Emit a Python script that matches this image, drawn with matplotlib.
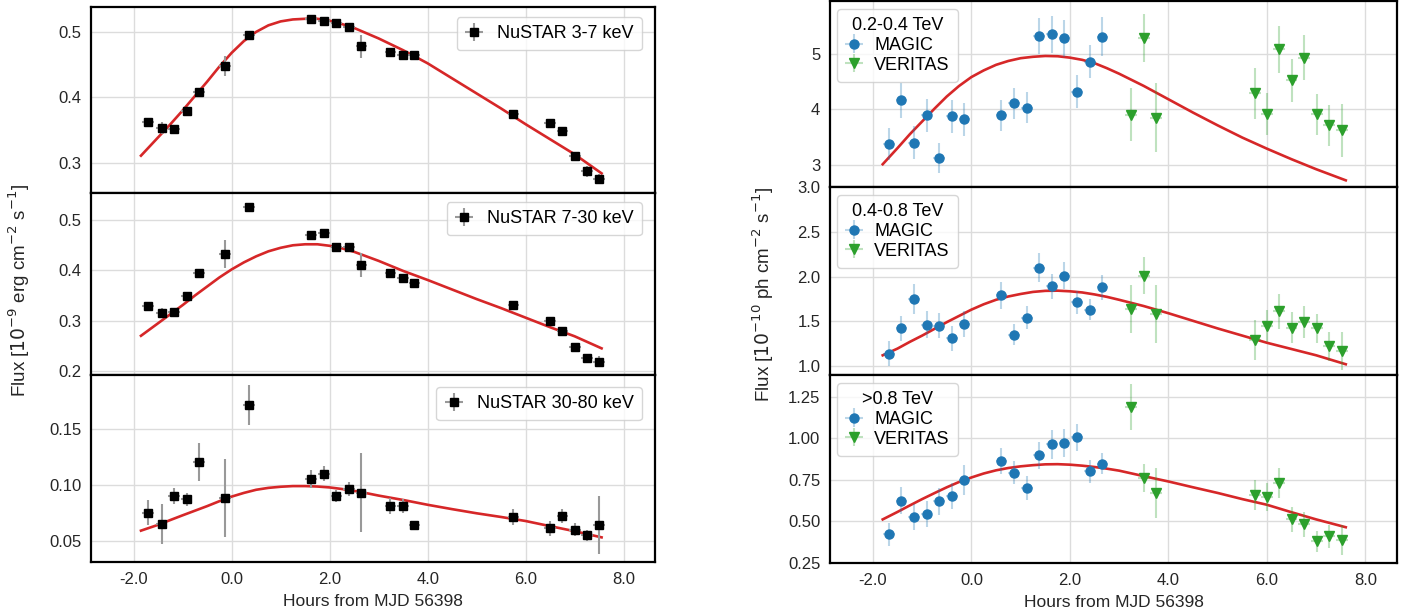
import numpy as np
import matplotlib.pyplot as plt

plt.rcParams['font.family'] = ['Liberation Sans', 'DejaVu Sans']
plt.rcParams['axes.unicode_minus'] = False
plt.rcParams['font.size'] = 12

#######################################################
# NuSTAR (left column)
nustar_t = [-1.70, -1.43, -1.18, -0.92, -0.66, -0.14, 0.35, 1.62, 1.88, 2.14, 2.40,
            2.65, 3.24, 3.49, 3.73, 5.75, 6.50, 6.75, 7.01, 7.26, 7.50]
nustar_lo   = [0.363, 0.353, 0.352, 0.379, 0.408, 0.448, 0.496, 0.519, 0.517, 0.514, 0.507,
               0.478, 0.470, 0.465, 0.465, 0.374, 0.361, 0.348, 0.311, 0.287, 0.275]
nustar_lo_e = [0.005, 0.009, 0.005, 0.005, 0.006, 0.015, 0.006, 0.005, 0.005, 0.005, 0.005,
               0.018, 0.005, 0.005, 0.005, 0.006, 0.006, 0.006, 0.006, 0.008, 0.008]
nustar_mid   = [0.329, 0.316, 0.317, 0.350, 0.394, 0.432, 0.526, 0.470, 0.474, 0.447, 0.446,
                0.410, 0.395, 0.385, 0.374, 0.331, 0.299, 0.280, 0.248, 0.225, 0.218]
nustar_mid_e = [0.007, 0.010, 0.007, 0.007, 0.008, 0.028, 0.009, 0.007, 0.007, 0.007, 0.007,
                0.024, 0.007, 0.007, 0.007, 0.008, 0.008, 0.008, 0.008, 0.009, 0.011]
nustar_hi   = [0.075, 0.065, 0.090, 0.087, 0.120, 0.088, 0.171, 0.105, 0.110, 0.090, 0.096,
               0.093, 0.081, 0.081, 0.064, 0.071, 0.061, 0.072, 0.060, 0.055, 0.064]
nustar_hi_e = [0.011, 0.018, 0.007, 0.006, 0.017, 0.035, 0.018, 0.008, 0.007, 0.005, 0.006,
               0.035, 0.007, 0.006, 0.004, 0.007, 0.007, 0.006, 0.006, 0.005, 0.026]

# model curves
curve_t_left = [-1.85, -1.5, -1.25, -1.0, -0.75, -0.5, -0.25, 0.0, 0.25, 0.5, 0.75, 1.0,
                1.25, 1.5, 1.75, 2.0, 2.25, 2.5, 2.75, 3.0, 3.5, 4.0, 4.5, 5.0, 5.5,
                6.0, 6.5, 7.0, 7.55]
curve_lo  = [0.311, 0.339, 0.359, 0.380, 0.402, 0.424, 0.447, 0.468, 0.486, 0.500, 0.510, 0.516,
             0.519, 0.520, 0.520, 0.517, 0.512, 0.506, 0.498, 0.490, 0.472, 0.452, 0.429,
             0.406, 0.383, 0.359, 0.336, 0.313, 0.284]
curve_mid = [0.270, 0.295, 0.313, 0.331, 0.350, 0.368, 0.386, 0.402, 0.416, 0.428, 0.438, 0.445,
             0.450, 0.452, 0.452, 0.449, 0.444, 0.437, 0.428, 0.419, 0.399, 0.381, 0.362,
             0.343, 0.325, 0.306, 0.287, 0.269, 0.245]
curve_hi  = [0.059, 0.0642, 0.0685, 0.0727, 0.0768, 0.0809, 0.0853, 0.0894, 0.0927, 0.0955,
             0.0972, 0.0982, 0.0988, 0.0988, 0.0984, 0.0976, 0.0962, 0.0945, 0.0925, 0.0903,
             0.0864, 0.0821, 0.0782, 0.0745, 0.0712, 0.0676, 0.063, 0.0585, 0.053]

# MAGIC / VERITAS (right column)
magic_t = [-1.68, -1.42, -1.17, -0.91, -0.65, -0.39, -0.14, 0.61, 0.87, 1.13, 1.38,
           1.64, 1.89, 2.14, 2.40, 2.66]
veritas_t = [3.24, 3.50, 3.75, 5.75, 6.00, 6.25, 6.50, 6.75, 7.01, 7.26, 7.52]

magic_b1   = [3.38, 4.16, 3.40, 3.89, 3.13, 3.87, 3.82, 3.89, 4.11, 4.03, 5.32, 5.35, 5.28, 4.32, 4.86, 5.31]
magic_b1_e = [0.29, 0.31, 0.30, 0.30, 0.27, 0.29, 0.30, 0.28, 0.28, 0.28, 0.32, 0.33, 0.33, 0.30, 0.30, 0.35]
veritas_b1   = [3.90, 5.29, 3.85, 4.29, 3.92, 5.08, 4.52, 4.93, 3.91, 3.71, 3.62]
veritas_b1_e = [0.48, 0.43, 0.62, 0.46, 0.38, 0.42, 0.39, 0.41, 0.37, 0.37, 0.48]

magic_b2   = [1.14, 1.42, 1.75, 1.46, 1.45, 1.31, 1.47, 1.79, 1.35, 1.54, 2.10, 1.89, 2.01, 1.71, 1.63, 1.88]
magic_b2_e = [0.14, 0.14, 0.17, 0.15, 0.14, 0.14, 0.14, 0.15, 0.12, 0.13, 0.16, 0.14, 0.15, 0.13, 0.12, 0.14]
veritas_b2   = [1.64, 2.01, 1.58, 1.29, 1.45, 1.61, 1.43, 1.49, 1.42, 1.22, 1.17]
veritas_b2_e = [0.27, 0.21, 0.32, 0.22, 0.18, 0.20, 0.17, 0.18, 0.16, 0.16, 0.21]

magic_b3   = [0.423, 0.624, 0.526, 0.545, 0.620, 0.652, 0.750, 0.862, 0.793, 0.700, 0.898,
              0.963, 0.970, 1.006, 0.800, 0.848]
magic_b3_e = [0.07, 0.08, 0.08, 0.08, 0.08, 0.08, 0.09, 0.08, 0.07, 0.07, 0.08,
              0.085, 0.085, 0.08, 0.07, 0.065]
veritas_b3   = [1.187, 0.760, 0.670, 0.659, 0.648, 0.730, 0.512, 0.482, 0.380, 0.410, 0.390]
veritas_b3_e = [0.14, 0.085, 0.15, 0.09, 0.085, 0.09, 0.075, 0.073, 0.063, 0.068, 0.09]

curve_t_right = [-1.8, -1.5, -1.25, -1.0, -0.75, -0.5, -0.25, 0.0, 0.25, 0.5, 0.75, 1.0,
                 1.25, 1.5, 1.75, 2.0, 2.25, 2.5, 2.75, 3.0, 3.5, 4.0, 4.5, 5.0, 5.5,
                 6.0, 6.5, 7.0, 7.6]
curve_b1 = [3.01, 3.30, 3.55, 3.78, 4.01, 4.23, 4.42, 4.58, 4.70, 4.80, 4.87, 4.92,
            4.945, 4.96, 4.955, 4.93, 4.89, 4.83, 4.74, 4.64, 4.42, 4.18, 3.94, 3.71,
            3.49, 3.29, 3.10, 2.92, 2.72]
curve_b2 = [1.12, 1.195, 1.27, 1.34, 1.415, 1.49, 1.56, 1.63, 1.69, 1.74, 1.777, 1.805,
            1.828, 1.84, 1.842, 1.835, 1.822, 1.80, 1.773, 1.74, 1.67, 1.59, 1.505, 1.42,
            1.34, 1.26, 1.19, 1.12, 1.02]
curve_b3 = [0.512, 0.557, 0.596, 0.634, 0.670, 0.705, 0.737, 0.764, 0.788, 0.807, 0.821, 0.831,
            0.838, 0.843, 0.844, 0.841, 0.835, 0.827, 0.817, 0.805, 0.772, 0.740, 0.705,
            0.671, 0.634, 0.600, 0.555, 0.512, 0.465]

x_ticks = [-2.0, 0.0, 2.0, 4.0, 6.0, 8.0]
x_lim = (-2.87, 8.64)
#######################################################

W, H = 1413, 612
fig = plt.figure(figsize=(W / 100, H / 100), dpi=100)


def px_axes(x0, x1, y0, y1):
    return fig.add_axes([x0 / W, 1 - y1 / H, (x1 - x0) / W, (y1 - y0) / H])


def style(ax, ylim, yticks, bottom):
    ax.set_xlim(*x_lim)
    ax.set_ylim(*ylim)
    ax.set_xticks(x_ticks)
    ax.set_yticks(yticks)
    ax.grid(True, color='#dcdcdc', lw=1.0)
    ax.set_axisbelow(True)
    for s in ax.spines.values():
        s.set_color('black')
        s.set_linewidth(1.6)
    ax.tick_params(length=0, pad=7, labelsize=12, colors='#262626')
    if bottom:
        ax.set_xticklabels(['%.1f' % v for v in x_ticks])
        ax.set_xlabel('Hours from MJD 56398', fontsize=12.5, labelpad=5, color='#262626')
    else:
        ax.set_xticklabels([])


# left column
left_rows = [(7, 193), (193, 375), (375, 562)]
left_data = [
    (nustar_lo, nustar_lo_e, curve_lo, 'NuSTAR 3-7 keV', (0.254, 0.538), [0.3, 0.4, 0.5]),
    (nustar_mid, nustar_mid_e, curve_mid, 'NuSTAR 7-30 keV', (0.192, 0.554), [0.2, 0.3, 0.4, 0.5]),
    (nustar_hi, nustar_hi_e, curve_hi, 'NuSTAR 30-80 keV', (0.031, 0.198), [0.05, 0.10, 0.15]),
]
leg_top_gap = [10, 9, 12]
for i, ((y0, y1), (flux, err, curve, lab, ylim, yt)) in enumerate(zip(left_rows, left_data)):
    ax = px_axes(91, 655, y0, y1)
    ax.plot(curve_t_left, curve, color='#d62728', lw=1.9)
    ax.errorbar(nustar_t, flux, yerr=err, xerr=0.12, fmt='s', color='black', ms=6,
                ecolor='#999999', elinewidth=1.5, capsize=0, label=lab)
    style(ax, ylim, yt, i == 2)
    if i == 2:
        ax.set_yticklabels(['0.05', '0.10', '0.15'])
    ax.legend(loc='upper right', bbox_to_anchor=(1 - 13 / 564, 1 - leg_top_gap[i] / (y1 - y0)),
              borderaxespad=0, fontsize=13, handlelength=1.0, framealpha=0.8,
              edgecolor='#cccccc', borderpad=0.45)

fig.text(19 / W, 1 - 291 / H, 'Flux [$10^{-9}$ erg cm$^{-2}$ s$^{-1}$]',
         rotation=90, ha='center', va='center', fontsize=13.5, color='#262626')

# right column
right_rows = [(1, 187), (187, 375), (375, 563)]
right_data = [
    (magic_b1, magic_b1_e, veritas_b1, veritas_b1_e, curve_b1, '0.2-0.4 TeV', (2.60, 5.95), [3, 4, 5]),
    (magic_b2, magic_b2_e, veritas_b2, veritas_b2_e, curve_b2, '0.4-0.8 TeV', (0.90, 3.0),
     [1.0, 1.5, 2.0, 2.5, 3.0]),
    (magic_b3, magic_b3_e, veritas_b3, veritas_b3_e, curve_b3, '>0.8 TeV', (0.25, 1.38),
     [0.25, 0.50, 0.75, 1.00, 1.25]),
]
blue, green = '#1f77b4', '#2ca02c'
for i, ((y0, y1), (mf, me, vf, ve, curve, title, ylim, yt)) in enumerate(zip(right_rows, right_data)):
    ax = px_axes(830, 1397, y0, y1)
    ax.plot(curve_t_right, curve, color='#d62728', lw=1.9)
    ax.errorbar(magic_t, mf, yerr=me, xerr=0.12, fmt='o', color=blue, ms=6.5,
                ecolor=(0.12, 0.47, 0.71, 0.3), elinewidth=1.5, capsize=0, label='MAGIC')
    ax.errorbar(veritas_t, vf, yerr=ve, xerr=0.12, fmt='v', color=green, ms=7,
                ecolor=(0.17, 0.63, 0.17, 0.3), elinewidth=1.5, capsize=0, label='VERITAS')
    style(ax, ylim, yt, i == 2)
    if i == 2:
        ax.set_yticklabels(['0.25', '0.50', '0.75', '1.00', '1.25'])
    ax.legend(loc='upper left', bbox_to_anchor=(7 / 567, 1 - 8 / (y1 - y0)), borderaxespad=0,
              title=title, fontsize=13, title_fontsize=13,
              handlelength=1.0, framealpha=0.8, edgecolor='#cccccc',
              borderpad=0.45, labelspacing=0.15, handletextpad=0.6)

fig.text(763 / W, 1 - 294 / H, 'Flux [$10^{-10}$ ph cm$^{-2}$ s$^{-1}$]',
         rotation=90, ha='center', va='center', fontsize=13.5, color='#262626')

fig.savefig('out.png', dpi=100)
